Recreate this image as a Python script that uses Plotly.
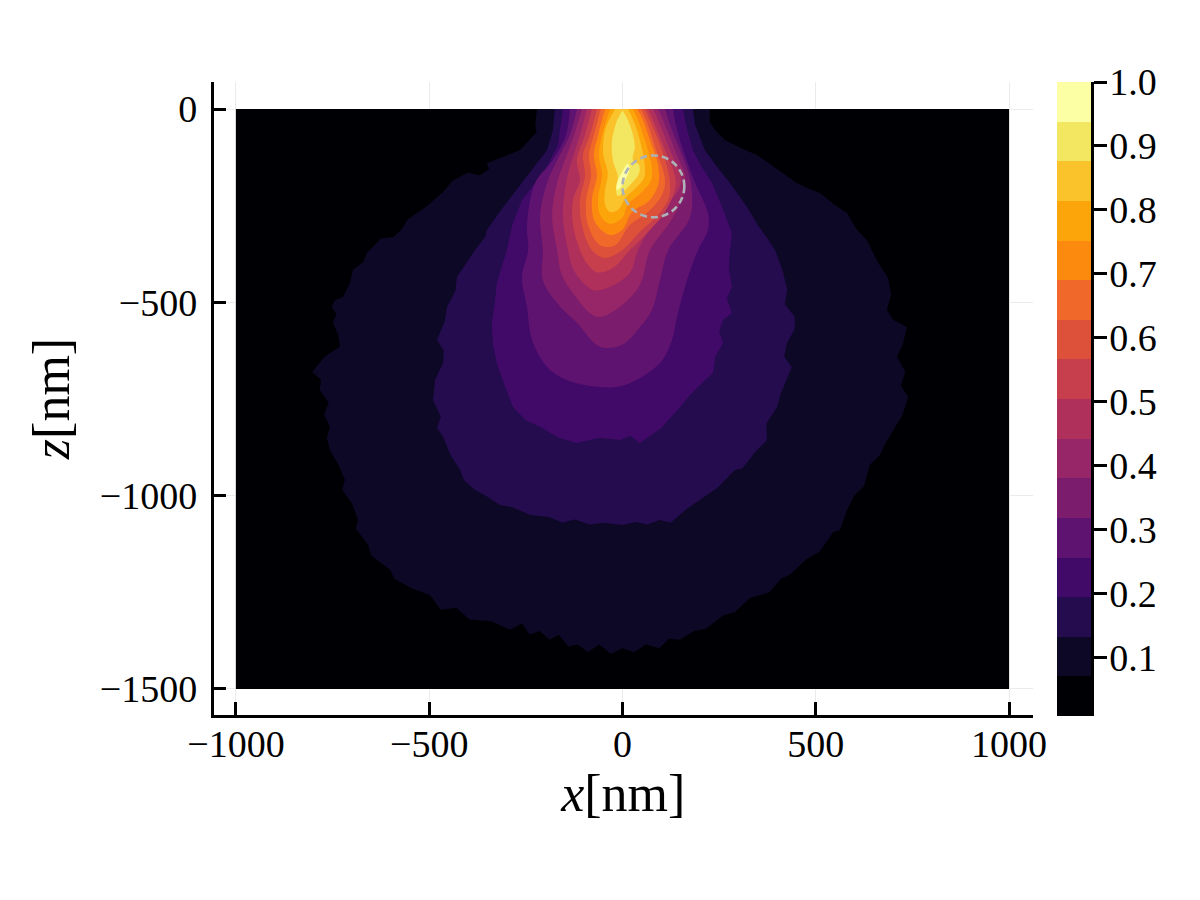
import plotly.graph_objects as go

# Filled level colours, lowest to highest
BAND_COLORS = ["#000004", "#0C0826", "#240C4F", "#420A68", "#5F1370", "#7B1D6C", "#962667", "#AF315B",
               "#C73E4C", "#DD513A", "#F0692A", "#FB8A0E", "#FCA50A", "#FAC22B", "#F3E660", "#FCFFA4"]
BAND_EDGES = [0.008, 0.070, 0.132, 0.194, 0.256, 0.318, 0.380, 0.442, 0.504,
              0.566, 0.628, 0.690, 0.752, 0.814, 0.876, 0.938, 1.0]
CBAR_TICKS = [0.1, 0.2, 0.3, 0.4, 0.5, 0.6, 0.7, 0.8, 0.9, 1.0]
CBAR_LABELS = ["0.1", "0.2", "0.3", "0.4", "0.5", "0.6", "0.7", "0.8", "0.9", "1.0"]
X_TICKS = [-1000, -500, 0, 500, 1000]
X_LABELS = ["\u22121000", "\u2212500", "0", "500", "1000"]
Z_TICKS = [0, -500, -1000, -1500]
Z_LABELS = ["0", "\u2212500", "\u22121000", "\u22121500"]

# Outline of each level region, in nm
L0_X = [-1000, 1000, 1000, -1000]
L0_Z = [0, 0, -1500, -1500]
L1_X = [-221, -226, -222, -250, -265, -300, -351, -345, -369, -400, -438, -465, -489, -505, -557, -570, -592, -625,
        -661, -670, -697, -705, -723, -745, -752, -740, -749, -735, -731, -770, -803, -780, -783, -760, -772, -757,
        -765, -757, -735, -718, -725, -700, -684, -690, -658, -650, -601, -590, -545, -498, -470, -430, -395, -340,
        -291, -260, -240, -215, -188, -165, -140, -115, -90, -60, -30, -1, 30, 60, 95, 120, 149, 185, 215, 260, 291,
        330, 380, 410, 433, 475, 510, 545, 563, 580, 600, 625, 640, 666, 680, 700, 725, 739, 720, 732, 710, 725, 736,
        700, 684, 695, 687, 660, 632, 605, 581, 545, 511, 480, 451, 400, 348, 305, 265, 240, 226, 226]
L1_Z = [0, -41, -60, -90, -106, -120, -140, -155, -171, -165, -184, -215, -235, -250, -287, -310, -331, -335,
        -372, -395, -416, -450, -486, -495, -512, -530, -553, -585, -615, -640, -680, -700, -727, -760, -790, -822,
        -850, -882, -920, -959, -985, -1020, -1063, -1085, -1128, -1155, -1192, -1215, -1240, -1257, -1295, -1290, -1321, -1325,
        -1347, -1330, -1360, -1350, -1373, -1360, -1390, -1385, -1405, -1385, -1410, -1395, -1405, -1385, -1395, -1370, -1373, -1350, -1345, -1310, -1301,
        -1265, -1250, -1215, -1205, -1165, -1145, -1095, -1089, -1040, -1000, -975, -920, -895, -865, -830, -790, -745, -715, -680, -641, -610, -564,
        -545, -520, -480, -437, -395, -339, -310, -269, -245, -217, -205, -191, -155, -119, -100, -80, -55, -34, 0]
L2_X = [-175, -180, -195, -230, -265, -310, -351, -355, -382, -405, -428, -432, -454, -460, -480, -462, -464, -485,
        -490, -470, -480, -464, -445, -420, -410, -382, -355, -317, -285, -239, -190, -155, -123, -85, -50, -1, 35, 65,
        97, 125, 165, 200, 245, 291, 310, 345, 374, 372, 400, 410, 438, 418, 426, 445, 446, 420, 426, 415, 395, 375,
        350, 320, 278, 245, 213, 188, 182]
L2_Z = [0, -54, -106, -150, -197, -255, -313, -330, -365, -400, -434, -470, -512, -550, -597, -625, -657, -700,
        -753, -795, -825, -848, -895, -934, -960, -985, -1000, -1024, -1030, -1050, -1055, -1070, -1062, -1075, -1070, -1076, -1068, -1075,
        -1063, -1070, -1035, -1011, -980, -934, -930, -885, -856, -815, -771, -735, -667, -640, -605, -570, -538, -505, -468, -420, -365, -335,
        -300, -250, -191, -150, -106, -41, 0]
L3_X = [-154, -167, -200, -260, -285, -299, -325, -330, -338, -335, -325, -305, -283, -250, -213, -165, -118, -60, -6,
        20, 45, 100, 149, 170, 195, 234, 240, 260, 250, 260, 283, 270, 283, 275, 278, 283, 260, 232, 205, 182, 164, 157]
L3_Z = [0, -93, -158, -235, -300, -365, -450, -500, -553, -610, -657, -715, -771, -805, -822, -850, -864, -850, -856,
        -845, -864, -825, -771, -745, -719, -683, -640, -605, -575, -546, -528, -490, -460, -410, -365, -321, -260, -191, -150, -106, -41, 0]
L4_X = [-136, -146, -180, -226, -247, -244, -260, -247, -234, -195, -144, -58, 6, 97, 128, 141, 167, 195, 221, 221,
        188, 157, 138, 131]
L4_Z = [0, -67, -132, -191, -300, -365, -434, -512, -597, -667, -701, -719, -714, -657, -597, -538, -442, -365, -313,
        -269, -191, -106, -41, 0]
L5_X = [-118, -136, -162, -195, -213, -206, -206, -169, -118, -58, -1, 45, 76, 97, 118, 175, 177, 149, 123, 110]
L5_Z = [0, -67, -119, -191, -274, -365, -442, -502, -553, -615, -610, -564, -520, -442, -365, -279, -191, -106, -41, 0]
L6_X = [-105, -125, -144, -169, -182, -169, -157, -128, -84, -58, -1, 45, 71, 131, 164, 136, 110, 92]
L6_Z = [0, -67, -119, -191, -274, -365, -429, -476, -528, -538, -507, -455, -365, -279, -191, -106, -41, 0]
L7_X = [-92, -110, -131, -146, -154, -141, -123, -76, -40, 19, 40, 89, 151, 123, 97, 79]
L7_Z = [0, -67, -132, -191, -274, -365, -422, -468, -463, -424, -365, -279, -191, -106, -41, 0]
L8_X = [-79, -97, -118, -110, -128, -128, -110, -94, -66, -25, 19, 66, 110, 138, 110, 84, 66]
L8_Z = [0, -67, -132, -184, -235, -300, -365, -396, -422, -411, -365, -318, -266, -191, -106, -41, 0]
L9_X = [-66, -84, -102, -97, -110, -105, -79, -45, -1, 45, 84, 118, 123, 102, 76, 58]
L9_Z = [0, -67, -119, -171, -235, -300, -365, -385, -365, -318, -282, -235, -191, -106, -41, 0]
L10_X = [-56, -74, -87, -81, -94, -89, -58, -19, 19, 66, 102, 110, 87, 66, 48]
L10_Z = [0, -67, -119, -171, -235, -300, -352, -352, -300, -266, -222, -184, -106, -41, 0]
L11_X = [-45, -63, -74, -66, -79, -71, -32, -1, 25, 66, 92, 92, 71, 53, 38]
L11_Z = [0, -67, -119, -171, -235, -292, -326, -313, -266, -240, -197, -145, -80, -28, 0]
L12_X = [-32, -53, -61, -53, -63, -58, -32, -1, 14, 45, 74, 76, 58, 40, 27]
L12_Z = [0, -67, -119, -171, -228, -274, -297, -282, -246, -220, -184, -150, -80, -28, 0]
L13_X = [-19, -45, -50, -38, -45, -45, -32, -12, 9, 35, 56, 58, 45, 28, 14]
L13_Z = [0, -54, -114, -166, -209, -248, -266, -261, -228, -204, -178, -150, -80, -28, 0]
L14_X = [0, 14, 26, 32, 27, 43, 43, 27, 12, -12, -17, -12, -25, -27, -14]
L14_Z = [-3, -28, -62, -98, -132, -145, -166, -189, -204, -225, -204, -176, -132, -80, -28]
L15_X = [12, 19, 12, -6, -14, -14, -1]
L15_Z = [-140, -150, -173, -204, -209, -191, -163]

LEVELS = [(L0_X, L0_Z), (L1_X, L1_Z), (L2_X, L2_Z), (L3_X, L3_Z), (L4_X, L4_Z), (L5_X, L5_Z), (L6_X, L6_Z),
          (L7_X, L7_Z), (L8_X, L8_Z), (L9_X, L9_Z), (L10_X, L10_Z), (L11_X, L11_Z), (L12_X, L12_Z),
          (L13_X, L13_Z), (L14_X, L14_Z), (L15_X, L15_Z)]

CIRCLE_X = 80
CIRCLE_Z = -200
CIRCLE_R = 80

FONT = "Liberation Serif"
W, H = 1200, 900

fig = go.Figure()
for i, ((xs, zs), color) in enumerate(zip(LEVELS, BAND_COLORS)):
    shape = "spline" if i >= 4 else "linear"
    fig.add_trace(go.Scatter(x=xs, y=zs, mode="lines", fill="toself", fillcolor=color,
                             line=dict(width=0, color=color, shape=shape), hoverinfo="skip", showlegend=False))

n = len(BAND_COLORS)
stepped = []
for i, c in enumerate(BAND_COLORS):
    stepped += [[i / n, c], [(i + 1) / n, c]]
fig.add_trace(go.Heatmap(x=[0, 1], y=BAND_EDGES, z=[[i + 0.5] for i in range(n)], zmin=0, zmax=n,
                         colorscale=stepped, showscale=False, xaxis="x2", yaxis="y2", hoverinfo="skip"))

axis_common = dict(showline=True, linecolor="black", linewidth=2.5, ticks="inside", ticklen=13, tickwidth=2.5,
                   tickcolor="black", showgrid=True, gridcolor="#EBEBEB", gridwidth=1, zeroline=False,
                   automargin=False, tickfont=dict(family=FONT, size=38, color="black"))

fig.update_layout(
    width=W, height=H, margin=dict(l=0, r=0, t=0, b=0), paper_bgcolor="white", plot_bgcolor="white",
    showlegend=False, font=dict(family=FONT, color="black"),
    xaxis=dict(axis_common, domain=[213.5 / W, 1033 / W], range=[-1058, 1062], tickvals=X_TICKS, ticktext=X_LABELS,
               anchor="y", ticklabelstandoff=-6,
               title=dict(text="<i>x</i>[nm]", font=dict(family=FONT, size=52), standoff=4)),
    yaxis=dict(axis_common, domain=[1 - 715 / H, 1 - 82 / H], range=[-1567.5, 70], tickvals=Z_TICKS, ticktext=Z_LABELS,
               anchor="x", ticklabelstandoff=6,
               title=dict(text="<i>z</i>[nm]", font=dict(family=FONT, size=52), standoff=14)),
    xaxis2=dict(domain=[1057 / W, 1091 / W], range=[0, 1], anchor="y2", showticklabels=False, ticks="",
                showgrid=False, zeroline=False, showline=False, automargin=False),
    yaxis2=dict(domain=[1 - 716 / H, 1 - 82 / H], range=[0.008, 1.0], anchor="x2", side="right", tickvals=CBAR_TICKS,
                ticktext=CBAR_LABELS, ticks="outside", ticklen=13, tickwidth=2.5, tickcolor="black", showline=True,
                linecolor="black", linewidth=2.5, showgrid=False, zeroline=False, automargin=False,
                ticklabelstandoff=-5, tickfont=dict(family=FONT, size=38, color="black")),
    shapes=[dict(type="circle", xref="x", yref="y", x0=CIRCLE_X - CIRCLE_R, x1=CIRCLE_X + CIRCLE_R,
                 y0=CIRCLE_Z - CIRCLE_R, y1=CIRCLE_Z + CIRCLE_R,
                 line=dict(color="#ADB1B8", width=2.6, dash="7px,4px"))],
)

fig.write_html("out.html", config={"displayModeBar": False}, post_script="document.body.style.margin='0';")
